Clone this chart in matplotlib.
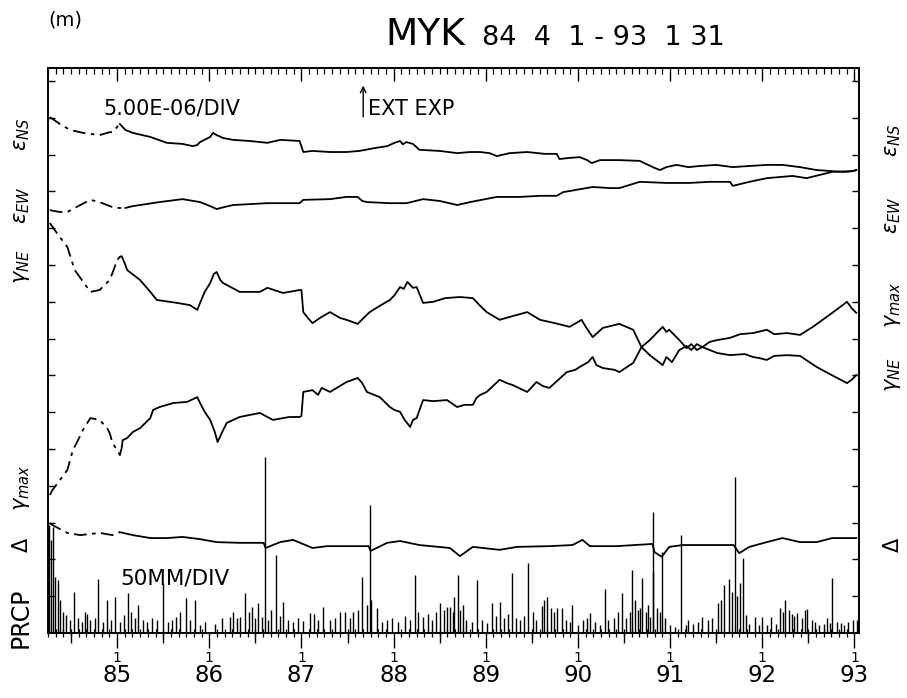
import numpy as np
import matplotlib
matplotlib.use('Agg')
import matplotlib.pyplot as plt

# time in decimal years, strain traces in chart divisions (1 div = 5.00E-06)
t_ens = [1984.27, 1984.38, 1984.49, 1984.63, 1984.81, 1984.92, 1984.95, 1985.00, 1985.03, 1985.09,
         1985.17, 1985.36, 1985.54, 1985.71, 1985.82, 1985.87, 1985.90, 1986.01, 1986.04, 1986.08,
         1986.15, 1986.26, 1986.44, 1986.63, 1986.77, 1986.98, 1987.02, 1987.12, 1987.31, 1987.49,
         1987.63, 1987.80, 1987.93, 1988.01, 1988.07, 1988.10, 1988.14, 1988.21, 1988.28, 1988.50,
         1988.69, 1988.83, 1988.94, 1989.04, 1989.12, 1989.26, 1989.45, 1989.64, 1989.77, 1989.80,
         1989.91, 1990.02, 1990.10, 1990.15, 1990.24, 1990.45, 1990.67, 1990.83, 1990.89, 1990.96,
         1991.07, 1991.20, 1991.32, 1991.50, 1991.68, 1991.86, 1992.05, 1992.22, 1992.41, 1992.59,
         1992.76, 1992.89, 1992.98, 1993.02]
ens = [14.02, 13.83, 13.67, 13.59, 13.53, 13.61, 13.61, 13.75, 13.83, 13.67,
       13.59, 13.48, 13.32, 13.29, 13.23, 13.26, 13.34, 13.48, 13.59, 13.53,
       13.45, 13.40, 13.37, 13.32, 13.40, 13.37, 13.07, 13.10, 13.07, 13.07,
       13.10, 13.18, 13.23, 13.32, 13.37, 13.28, 13.34, 13.29, 13.13, 13.10,
       13.04, 13.07, 13.07, 13.04, 12.96, 13.04, 13.07, 13.02, 13.02, 12.88,
       12.91, 12.93, 12.85, 12.77, 12.85, 12.85, 12.83, 12.64, 12.58, 12.66,
       12.72, 12.66, 12.69, 12.72, 12.66, 12.69, 12.72, 12.72, 12.66, 12.58,
       12.55, 12.53, 12.55, 12.58]

t_eew = [1984.27, 1984.38, 1984.46, 1984.60, 1984.71, 1984.81, 1984.92, 1984.98, 1985.09, 1985.17,
         1985.46, 1985.71, 1985.90, 1986.01, 1986.08, 1986.17, 1986.26, 1986.63, 1986.98, 1987.02,
         1987.31, 1987.49, 1987.61, 1987.66, 1987.71, 1987.96, 1988.14, 1988.32, 1988.50, 1988.69,
         1988.83, 1989.12, 1989.37, 1989.59, 1989.77, 1989.84, 1990.16, 1990.35, 1990.45, 1990.67,
         1990.96, 1991.21, 1991.43, 1991.65, 1991.68, 1991.86, 1992.05, 1992.33, 1992.48, 1992.76,
         1992.98, 1993.02]
eew = [11.49, 11.44, 11.44, 11.63, 11.77, 11.71, 11.60, 11.55, 11.55, 11.60,
       11.71, 11.79, 11.71, 11.60, 11.52, 11.58, 11.63, 11.68, 11.68, 11.77,
       11.79, 11.85, 11.85, 11.74, 11.71, 11.68, 11.68, 11.79, 11.74, 11.63,
       11.71, 11.85, 11.85, 11.88, 11.88, 11.98, 12.12, 12.09, 12.09, 12.26,
       12.23, 12.23, 12.26, 12.26, 12.15, 12.26, 12.36, 12.42, 12.36, 12.53,
       12.55, 12.58]

t_gne = [1984.27, 1984.36, 1984.46, 1984.54, 1984.71, 1984.81, 1984.92, 1984.97, 1985.00, 1985.03,
         1985.05, 1985.09, 1985.11, 1985.25, 1985.36, 1985.43, 1985.65, 1985.79, 1985.87, 1985.90,
         1985.95, 1986.01, 1986.05, 1986.08, 1986.12, 1986.15, 1986.33, 1986.55, 1986.63, 1986.80,
         1986.98, 1987.00, 1987.02, 1987.07, 1987.12, 1987.20, 1987.31, 1987.42, 1987.49, 1987.61,
         1987.74, 1987.85, 1987.96, 1988.01, 1988.07, 1988.11, 1988.15, 1988.21, 1988.25, 1988.32,
         1988.43, 1988.56, 1988.72, 1988.86, 1988.94, 1989.01, 1989.15, 1989.26, 1989.45, 1989.59,
         1989.75, 1989.91, 1990.04, 1990.08, 1990.16, 1990.27, 1990.40, 1990.45, 1990.60, 1990.69,
         1990.78, 1990.92, 1990.96, 1991.02, 1991.10, 1991.18, 1991.23, 1991.29, 1991.35, 1991.43,
         1991.51, 1991.65, 1991.81, 1991.90, 1991.97, 1992.05, 1992.13, 1992.27, 1992.41, 1992.59,
         1992.73, 1992.92, 1992.97, 1993.02]
gne = [11.14, 10.82, 10.49, 9.86, 9.27, 9.32, 9.59, 9.92, 10.14, 10.22,
       10.24, 10.00, 9.86, 9.59, 9.27, 9.05, 8.97, 8.91, 8.78, 8.97,
       9.27, 9.51, 9.76, 9.81, 9.59, 9.51, 9.27, 9.27, 9.38, 9.24,
       9.32, 9.32, 8.72, 8.56, 8.42, 8.56, 8.72, 8.56, 8.51, 8.40,
       8.72, 8.89, 9.05, 9.18, 9.40, 9.35, 9.54, 9.38, 9.40, 8.97,
       9.00, 9.10, 9.13, 9.10, 8.89, 8.72, 8.51, 8.59, 8.72, 8.51,
       8.42, 8.32, 8.51, 8.34, 8.04, 8.29, 8.37, 8.40, 8.24, 7.77,
       7.55, 7.28, 7.50, 7.36, 7.69, 7.80, 7.69, 7.85, 7.77, 7.69,
       7.61, 7.55, 7.58, 7.50, 7.47, 7.42, 7.53, 7.55, 7.53, 7.23,
       7.04, 6.79, 6.88, 7.01]

t_gmax = [1984.27, 1984.30, 1984.38, 1984.46, 1984.52, 1984.56, 1984.63, 1984.71, 1984.81, 1984.89,
          1984.92, 1984.95, 1985.00, 1985.03, 1985.05, 1985.06, 1985.11, 1985.17, 1985.25, 1985.36,
          1985.39, 1985.46, 1985.61, 1985.76, 1985.87, 1985.90, 1985.95, 1986.01, 1986.06, 1986.09,
          1986.14, 1986.19, 1986.33, 1986.55, 1986.69, 1986.87, 1986.98, 1987.00, 1987.02, 1987.12,
          1987.18, 1987.22, 1987.31, 1987.49, 1987.61, 1987.66, 1987.71, 1987.85, 1987.96, 1988.01,
          1988.07, 1988.12, 1988.18, 1988.21, 1988.25, 1988.32, 1988.43, 1988.58, 1988.69, 1988.77,
          1988.86, 1988.90, 1988.94, 1989.01, 1989.15, 1989.23, 1989.29, 1989.45, 1989.55, 1989.62,
          1989.69, 1989.88, 1989.97, 1990.02, 1990.11, 1990.16, 1990.20, 1990.27, 1990.40, 1990.45,
          1990.60, 1990.69, 1990.78, 1990.92, 1990.96, 1990.99, 1991.10, 1991.18, 1991.23, 1991.29,
          1991.35, 1991.43, 1991.51, 1991.65, 1991.76, 1991.90, 1992.05, 1992.13, 1992.27, 1992.41,
          1992.55, 1992.76, 1992.92, 1992.97, 1993.02]
gmax = [3.75, 3.89, 4.16, 4.43, 4.97, 5.16, 5.52, 5.84, 5.79, 5.57,
        5.43, 5.16, 4.97, 4.84, 5.03, 5.24, 5.30, 5.46, 5.57, 5.84,
        6.06, 6.14, 6.25, 6.28, 6.41, 6.25, 6.01, 5.79, 5.46, 5.19,
        5.46, 5.71, 5.87, 5.98, 5.79, 5.87, 5.87, 5.90, 6.55, 6.60,
        6.47, 6.66, 6.55, 6.82, 6.93, 6.79, 6.55, 6.41, 6.14, 6.06,
        6.01, 5.79, 5.60, 5.79, 5.84, 6.33, 6.30, 6.33, 6.14, 6.20,
        6.20, 6.39, 6.47, 6.55, 6.88, 6.79, 6.74, 6.55, 6.82, 6.71,
        6.66, 7.09, 7.15, 7.23, 7.36, 7.50, 7.28, 7.20, 7.15, 7.09,
        7.34, 7.77, 7.96, 8.32, 8.18, 8.24, 7.96, 7.74, 7.85, 7.69,
        7.77, 7.91, 7.96, 8.02, 8.12, 8.15, 8.24, 8.12, 8.15, 8.10,
        8.32, 8.70, 9.00, 8.83, 8.70]

t_delta = [1984.27, 1984.30, 1984.46, 1984.60, 1984.81, 1984.95, 1985.03, 1985.17, 1985.36, 1985.54,
           1985.71, 1985.90, 1986.08, 1986.33, 1986.59, 1986.61, 1986.77, 1986.91, 1987.12, 1987.28,
           1987.53, 1987.73, 1987.75, 1987.93, 1988.07, 1988.28, 1988.61, 1988.72, 1988.86, 1988.97,
           1989.15, 1989.34, 1989.69, 1989.94, 1990.05, 1990.13, 1990.42, 1990.81, 1990.83, 1990.91,
           1990.99, 1991.14, 1991.51, 1991.69, 1991.75, 1991.86, 1992.05, 1992.22, 1992.41, 1992.59,
           1992.76, 1993.02]
delta = [2.99, 2.93, 2.72, 2.66, 2.72, 2.66, 2.74, 2.66, 2.58, 2.58,
         2.61, 2.55, 2.47, 2.45, 2.45, 2.31, 2.47, 2.53, 2.31, 2.36,
         2.36, 2.36, 2.23, 2.45, 2.50, 2.39, 2.31, 2.09, 2.34, 2.31,
         2.26, 2.34, 2.36, 2.39, 2.53, 2.36, 2.36, 2.42, 2.20, 2.07,
         2.34, 2.39, 2.39, 2.39, 2.17, 2.34, 2.47, 2.58, 2.47, 2.47,
         2.58, 2.58]

# precipitation, mm (50 mm per division)
t_prcp = [1984.26, 1984.28, 1984.30, 1984.33, 1984.36, 1984.38, 1984.41, 1984.45, 1984.49, 1984.53,
          1984.58, 1984.62, 1984.65, 1984.67, 1984.71, 1984.76, 1984.79, 1984.85, 1984.89, 1984.93,
          1984.98, 1985.03, 1985.07, 1985.12, 1985.15, 1985.19, 1985.23, 1985.28, 1985.32, 1985.38,
          1985.43, 1985.50, 1985.55, 1985.60, 1985.64, 1985.68, 1985.75, 1985.79, 1985.84, 1985.90,
          1985.95, 1986.06, 1986.14, 1986.22, 1986.26, 1986.30, 1986.33, 1986.39, 1986.43, 1986.46,
          1986.50, 1986.53, 1986.57, 1986.60, 1986.64, 1986.67, 1986.72, 1986.77, 1986.80, 1986.85,
          1986.91, 1986.96, 1987.02, 1987.09, 1987.14, 1987.18, 1987.23, 1987.31, 1987.36, 1987.42,
          1987.47, 1987.53, 1987.56, 1987.61, 1987.66, 1987.71, 1987.74, 1987.76, 1987.82, 1987.87,
          1987.93, 1987.98, 1988.05, 1988.12, 1988.18, 1988.23, 1988.27, 1988.32, 1988.37, 1988.42,
          1988.46, 1988.50, 1988.55, 1988.58, 1988.61, 1988.64, 1988.66, 1988.70, 1988.72, 1988.75,
          1988.79, 1988.85, 1988.90, 1988.96, 1989.01, 1989.07, 1989.11, 1989.15, 1989.20, 1989.24,
          1989.28, 1989.33, 1989.37, 1989.41, 1989.46, 1989.51, 1989.55, 1989.61, 1989.63, 1989.66,
          1989.71, 1989.74, 1989.77, 1989.83, 1989.87, 1989.91, 1989.94, 1990.00, 1990.05, 1990.10,
          1990.13, 1990.18, 1990.24, 1990.29, 1990.33, 1990.39, 1990.43, 1990.48, 1990.52, 1990.56,
          1990.59, 1990.62, 1990.65, 1990.67, 1990.70, 1990.74, 1990.76, 1990.78, 1990.81, 1990.82,
          1990.86, 1990.89, 1990.91, 1990.94, 1991.00, 1991.05, 1991.12, 1991.17, 1991.19, 1991.25,
          1991.30, 1991.35, 1991.41, 1991.46, 1991.52, 1991.55, 1991.59, 1991.64, 1991.67, 1991.70,
          1991.73, 1991.76, 1991.79, 1991.82, 1991.86, 1991.92, 1991.96, 1992.00, 1992.05, 1992.10,
          1992.15, 1992.19, 1992.22, 1992.25, 1992.29, 1992.32, 1992.35, 1992.38, 1992.43, 1992.46,
          1992.49, 1992.54, 1992.57, 1992.62, 1992.67, 1992.70, 1992.73, 1992.76, 1992.81, 1992.86,
          1992.89, 1992.93, 1992.98, 1993.03]
prcp = [147, 126, 144, 76, 72, 45, 29, 24, 18, 56,
        20, 15, 29, 26, 18, 20, 73, 15, 45, 18,
        49, 15, 24, 54, 29, 20, 38, 18, 15, 20,
        18, 68, 15, 18, 22, 29, 47, 18, 45, 11,
        15, 12, 20, 22, 29, 20, 22, 54, 29, 35,
        20, 41, 22, 239, 18, 31, 106, 23, 42, 18,
        15, 20, 16, 27, 26, 18, 35, 18, 20, 29,
        29, 20, 29, 31, 76, 38, 174, 45, 34, 15,
        18, 20, 15, 23, 18, 79, 29, 22, 26, 18,
        29, 41, 31, 35, 35, 29, 49, 79, 31, 38,
        18, 15, 72, 18, 14, 41, 23, 42, 20, 26,
        82, 20, 18, 23, 95, 29, 18, 37, 45, 49,
        34, 29, 34, 34, 18, 15, 38, 11, 18, 20,
        27, 15, 11, 60, 18, 20, 29, 54, 20, 29,
        86, 45, 31, 34, 75, 29, 38, 22, 83, 164,
        34, 29, 110, 20, 11, 8, 133, 11, 18, 12,
        15, 22, 18, 20, 41, 45, 65, 73, 56, 212,
        50, 68, 102, 24, 12, 22, 11, 22, 11, 22,
        12, 34, 29, 45, 31, 26, 23, 27, 20, 31,
        33, 18, 15, 11, 12, 20, 14, 75, 15, 14,
        11, 15, 18, 18]

years = list(range(1985, 1994))
left_labels = [(r'$\varepsilon_{NS}$', 134), (r'$\varepsilon_{EW}$', 205), (r'$\gamma_{NE}$', 267),
               (r'$\gamma_{max}$', 488), (r'$\Delta$', 545)]
right_labels = [(r'$\varepsilon_{NS}$', 140), (r'$\varepsilon_{EW}$', 215), (r'$\gamma_{max}$', 305),
                (r'$\gamma_{NE}$', 375), (r'$\Delta$', 545)]

plt.rcParams['font.family'] = 'DejaVu Sans'
plt.rcParams['mathtext.fontset'] = 'dejavusans'

fig = plt.figure(figsize=(9.07, 6.98), dpi=100)
ax = fig.add_axes([48/907, 65/698, 811/907, 565/698])
ax.set_xlim(1984.25, 1993.05)
ax.set_ylim(0, 565/36.8)

dash_end = 1985.0
dash = (0, (7, 3, 2, 3))
for tt, vv in [(t_ens, ens), (t_eew, eew), (t_gne, gne), (t_gmax, gmax), (t_delta, delta)]:
    tt = np.array(tt)
    vv = np.array(vv)
    k = (tt <= dash_end).sum()
    ax.plot(tt[:k+1], vv[:k+1], color='black', lw=1.3, linestyle=dash)
    ax.plot(tt[k:], vv[k:], color='black', lw=1.3)

ax.vlines(t_prcp, 0, np.array(prcp)/50.0, color='black', lw=1.0)

for s in ax.spines.values():
    s.set_linewidth(1.4)

# y ticks one per division, inward on both sides
ax.set_yticks(np.arange(1, 16))
ax.tick_params(axis='y', direction='in', length=5, width=1, left=True, right=True,
               labelleft=False, labelright=False)

# bottom axis: year ticks out, month ticks across
months = [y + m/12.0 for y in range(1984, 1994) for m in range(12)]
months = [m for m in months if 1984.25 <= m <= 1993.05]
ax.set_xticks(years)
ax.set_xticks(months, minor=True)
ax.tick_params(axis='x', which='major', direction='out', length=11, width=1, labelbottom=False)
ax.tick_params(axis='x', which='minor', direction='inout', length=6, width=0.9)

half = ax.secondary_xaxis('bottom')
half.set_xticks([y + 0.5 for y in range(1984, 1993)])
half.tick_params(direction='out', length=7.5, width=1, labelbottom=False)
half.spines['bottom'].set_visible(False)

top = ax.secondary_xaxis('top')
top.set_xticks(years)
top.set_xticks(months, minor=True)
top.tick_params(which='major', direction='in', length=9, width=1, labeltop=False)
top.tick_params(which='minor', direction='in', length=4, width=0.9)
top.spines['top'].set_linewidth(1.4)

xt = ax.get_xaxis_transform()
for y in years:
    ax.text(y, -0.045, '1', transform=xt, ha='center', va='center', fontsize=10)
    ax.text(y, -0.075, str(y)[2:], transform=xt, ha='center', va='center', fontsize=16.5)

ax.text(1984.85, 14.25, '5.00E-06/DIV', fontsize=15, va='center', ha='left')
ax.text(1987.72, 14.25, 'EXT EXP', fontsize=15, va='center', ha='left')
ax.annotate('', xy=(1987.67, 14.95), xytext=(1987.67, 13.95),
            arrowprops=dict(arrowstyle='->', lw=1, color='black'))
ax.text(1985.03, 1.49, '50MM/DIV', fontsize=15.5, va='center', ha='left')

fig.text(48/907, 1 - 20/698, '(m)', fontsize=14, va='center', ha='left')
fig.text(385/907, 1 - 45/698, 'MYK', fontsize=27, va='baseline', ha='left')
fig.text(482/907, 1 - 45/698, '84  4  1 - 93  1 31', fontsize=19.5, va='baseline', ha='left')

for lab, yp in left_labels:
    fig.text(22/907, 1 - yp/698, lab, fontsize=15, rotation=90, ha='center', va='center')
fig.text(21/907, 1 - 618/698, 'PRCP', fontsize=17, rotation=90, ha='center', va='center')
for lab, yp in right_labels:
    fig.text(893/907, 1 - yp/698, lab, fontsize=15, rotation=90, ha='center', va='center')

fig.savefig('out.png', dpi=100)
